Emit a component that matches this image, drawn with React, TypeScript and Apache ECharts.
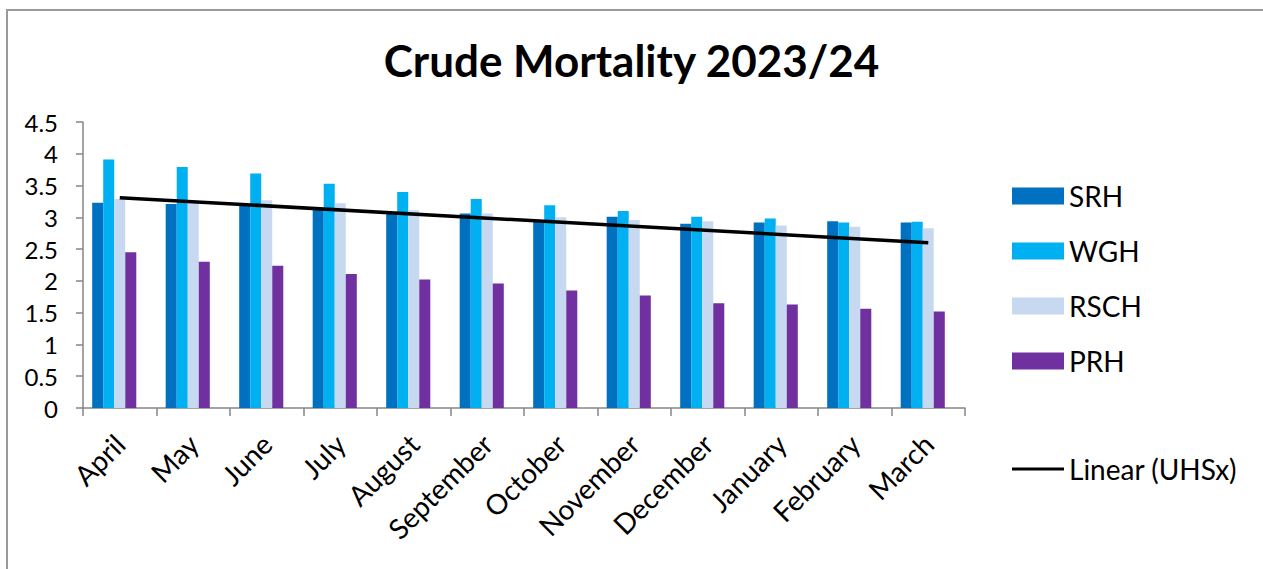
import React, { useEffect, useRef } from "react";
import * as echarts from "echarts";

const months = ["April", "May", "June", "July", "August", "September", "October", "November", "December", "January", "February", "March"];
const srh = [3.23, 3.21, 3.18, 3.13, 3.06, 3.06, 2.96, 3.01, 2.90, 2.92, 2.94, 2.92];
const wgh = [3.91, 3.79, 3.69, 3.53, 3.40, 3.29, 3.19, 3.10, 3.01, 2.98, 2.92, 2.93];
const rsch = [3.29, 3.26, 3.27, 3.22, 3.11, 3.06, 3.00, 2.96, 2.94, 2.87, 2.85, 2.83];
const prh = [2.45, 2.30, 2.24, 2.11, 2.02, 1.96, 1.85, 1.77, 1.65, 1.63, 1.56, 1.52];
const trendUHSx = [3.31, null, null, null, null, null, null, null, null, null, null, 2.60];
const hiddenUHSx = [null, null, null, null, null, null, null, null, null, null, null, null];

const FONT = "Lato, 'Open Sans', sans-serif";

export default function App() {
  const ref = useRef<HTMLDivElement>(null);
  useEffect(() => {
    if (!ref.current) return;
    const chart = echarts.init(ref.current, undefined, { renderer: "svg" });
    const barSeries = (name: string, data: (number | null)[], color: string) => ({
      name,
      type: "bar",
      data,
      barGap: "0%",
      barCategoryGap: "25%",
      itemStyle: { color },
    });
    chart.setOption({
      animation: false,
      backgroundColor: "#ffffff",
      textStyle: { fontFamily: FONT },
      title: {
        text: "Crude Mortality 2023/24",
        left: "center",
        top: 33,
        textStyle: { fontFamily: FONT, fontSize: 44, fontWeight: "bold", color: "#000" },
      },
      graphic: [
        {
          type: "rect",
          shape: { x: 7, y: 10, width: 1300, height: 600 },
          style: { fill: "none", stroke: "#9a9a9a", lineWidth: 2 },
          silent: true,
        },
      ],
      legend: [
        {
          data: ["SRH", "WGH", "RSCH", "PRH"],
          orient: "vertical",
          left: 1007,
          top: 177,
          itemWidth: 52,
          itemHeight: 17,
          itemGap: 27,
          icon: "rect",
          textStyle: { fontFamily: FONT, fontSize: 28, color: "#000" },
        },
        {
          data: ["Linear (UHSx)"],
          orient: "vertical",
          left: 1007,
          top: 450,
          itemWidth: 52,
          itemHeight: 3,
          icon: "rect",
          textStyle: { fontFamily: FONT, fontSize: 28, color: "#000" },
        },
      ],
      grid: { left: 83, right: 298, top: 122, bottom: 161, containLabel: false },
      xAxis: {
        type: "category",
        data: months,
        boundaryGap: true,
        axisLine: { lineStyle: { color: "#868686", width: 1.5 } },
        axisTick: { show: true, length: 8, lineStyle: { color: "#868686", width: 1.5 } },
        axisLabel: { rotate: 45, fontSize: 28, color: "#000", margin: 31, fontFamily: FONT, interval: 0 },
      },
      yAxis: {
        type: "value",
        min: 0,
        max: 4.5,
        interval: 0.5,
        axisLine: { show: true, lineStyle: { color: "#868686", width: 1.5 } },
        axisTick: { show: true, length: 7, lineStyle: { color: "#868686", width: 1.5 } },
        splitLine: { show: false },
        axisLabel: { fontSize: 24, color: "#000", margin: 25, fontFamily: FONT },
      },
      series: [
        barSeries("SRH", srh, "#0070C0"),
        barSeries("WGH", wgh, "#00B0F0"),
        barSeries("RSCH", rsch, "#C6D9F1"),
        barSeries("PRH", prh, "#7030A0"),
        barSeries("UHSx", hiddenUHSx, "rgba(0,0,0,0)"),
        {
          name: "Linear (UHSx)",
          type: "line",
          data: trendUHSx,
          connectNulls: true,
          symbol: "none",
          lineStyle: { color: "#000", width: 3.5 },
          itemStyle: { color: "#000" },
          z: 5,
        },
      ],
    });
    return () => chart.dispose();
  }, []);
  return <div ref={ref} style={{ position: "fixed", left: 0, top: 0, width: 1263, height: 569 }} />;
}
